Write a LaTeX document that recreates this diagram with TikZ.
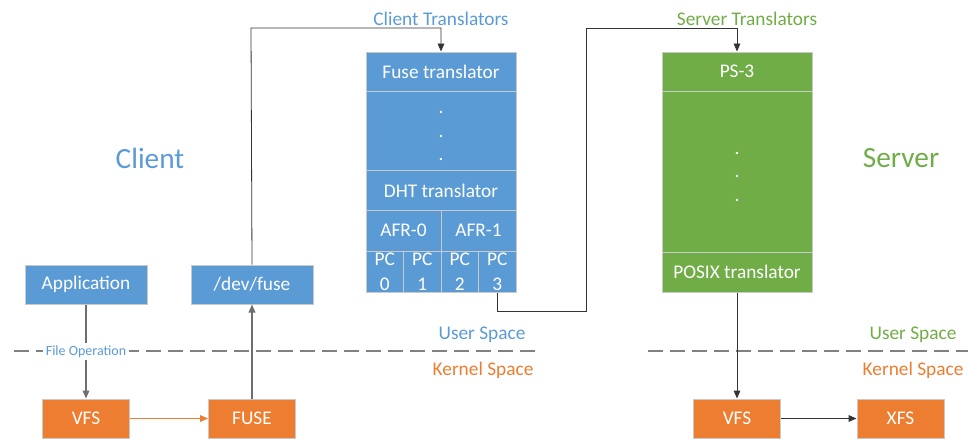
\documentclass[tikz,border=0pt]{standalone}
\usepackage{fontspec}
\setmainfont{Carlito}
\usetikzlibrary{arrows.meta}
\definecolor{cblue}{HTML}{5B9BD5}
\definecolor{cgreen}{HTML}{70AD47}
\definecolor{corange}{HTML}{ED7D31}
\definecolor{edgegray}{HTML}{C9C9C9}
\definecolor{linkgray}{HTML}{6E6E6E}
\definecolor{linkdark}{HTML}{333333}
\definecolor{dashgray}{HTML}{808080}

\begin{document}
\begin{tikzpicture}[x=0.75pt,y=-0.75pt,
  box/.style={draw=edgegray, line width=0.75pt, text=white, inner sep=0pt,
    font=\fontsize{14.5}{18.5}\selectfont, align=center},
  bluebox/.style={box, fill=cblue},
  greenbox/.style={box, fill=cgreen},
  orangebox/.style={box, fill=corange},
  wide/.style={minimum width=112.5pt},
  half/.style={minimum width=56.25pt},
  quarter/.style={minimum width=28.125pt},
  smallbox/.style={minimum width=91.5pt, minimum height=29.25pt},
  kbox/.style={minimum width=65.25pt, minimum height=29.25pt},
  dotmark/.style={text=white, inner sep=0pt, anchor=base, font=\fontsize{14.5}{18.5}\selectfont},
  label/.style={inner sep=1pt, font=\fontsize{14.5}{18.5}\selectfont},
  title/.style={inner sep=0pt, font=\fontsize{22}{26}\selectfont},
  link/.style={draw=linkgray, line width=0.9pt, -{Triangle[length=6pt,width=5pt]}},
  darklink/.style={draw=linkdark, line width=0.75pt, -{Triangle[length=6pt,width=5pt]}},
  route/.style={draw=linkdark, line width=0.6pt},
  spaceline/.style={draw=dashgray, line width=1.1pt, dash pattern=on 11.25pt off 5.25pt}
]
\useasboundingbox (0,0) rectangle (968,440);

% ---- client translator stack ----
\node[bluebox, wide, minimum height=29.25pt] (fusetr) at (441,71.5) {Fuse translator};
\node[bluebox, wide, minimum height=59.25pt] (cdots) at (441,130.5) {};
\node[dotmark] (cdot1) at (441,113) {.};
\node[dotmark] (cdot2) at (441,137) {.};
\node[dotmark] (cdot3) at (441,160) {.};
\node[bluebox, wide, minimum height=30pt] (dht) at (441,190.5) {DHT translator};
\node[bluebox, half, minimum height=30.75pt] (afr0) at (403.5,230.5) {AFR-0};
\node[bluebox, half, minimum height=30.75pt] (afr1) at (478.5,230.5) {AFR-1};
\node[bluebox, quarter, minimum height=30.75pt] (pc0) at (384.75,271.5) {PC\\0};
\node[bluebox, quarter, minimum height=30.75pt] (pc1) at (422.25,271.5) {PC\\1};
\node[bluebox, quarter, minimum height=30.75pt] (pc2) at (459.75,271.5) {PC\\2};
\node[bluebox, quarter, minimum height=30.75pt] (pc3) at (497.25,271.5) {PC\\3};

% ---- server translator stack ----
\node[greenbox, wide, minimum height=29.25pt] (ps3) at (737,71.5) {PS-3};
\node[greenbox, wide, minimum height=120.75pt] (sdots) at (737,171.5) {};
\node[dotmark] (sdot1) at (737,154) {.};
\node[dotmark] (sdot2) at (737,177) {.};
\node[dotmark] (sdot3) at (737,201) {.};
\node[greenbox, wide, minimum height=30pt] (posix) at (737,272) {POSIX translator};

% ---- titles ----
\node[label, text=cblue] (ctrans) at (441,19) {Client Translators};
\node[label, text=cgreen] (strans) at (747,19) {Server Translators};
\node[title, text=cblue] (client) at (150,158) {Client};
\node[title, text=cgreen] (server) at (901,158) {Server};

% ---- client side boxes ----
\node[bluebox, smallbox] (app) at (86,284.5) {Application};
\node[bluebox, smallbox] (devfuse) at (252,284.5) {/dev/fuse};
\node[orangebox, kbox] (cvfs) at (86,418.5) {VFS};
\node[orangebox, kbox] (cfuse) at (252,418.5) {FUSE};

% ---- server side boxes ----
\node[orangebox, kbox] (svfs) at (737,418.5) {VFS};
\node[orangebox, kbox] (xfs) at (900.5,418.5) {XFS};

% ---- user / kernel boundaries ----
\coordinate (cl0) at (14,351);
\coordinate (cl1) at (537,351);
\coordinate (sl0) at (648,351);
\coordinate (sl1) at (968,351);
\draw[spaceline] (cl0) -- (cl1);
\draw[spaceline] (sl0) -- (sl1);
\node[label, anchor=east, text=cblue] (cuser) at (527,335) {User Space};
\node[label, anchor=east, text=corange] (ckernel) at (535,370) {Kernel Space};
\node[label, anchor=east, text=cgreen] (suser) at (958,335) {User Space};
\node[label, anchor=east, text=corange] (skernel) at (965,370) {Kernel Space};

% ---- connectors ----
\draw[link] (app) -- node[fill=white, inner sep=2pt, text=cblue,
  font=\fontsize{10.5}{12}\selectfont] (fileop) {File Operation} (cvfs);
\draw[draw=corange, line width=0.9pt, -{Triangle[length=6pt,width=5pt]}] (cvfs) -- (cfuse);
\draw[link] (cfuse) -- (devfuse);

\coordinate (ctop) at (251,28);
\draw[route, -{Triangle[length=6pt,width=5pt]}] (devfuse.north) -- (ctop) -| (fusetr.north);

\coordinate (rb) at (586,311);
\coordinate (rt) at (586,28);
\draw[route, -{Triangle[length=6pt,width=5pt]}] (pc3.south) |- (rb) -- (rt) -| (ps3.north);

\draw[darklink] (posix) -- (svfs);
\draw[darklink] (svfs) -- (xfs);
\end{tikzpicture}
\end{document}
